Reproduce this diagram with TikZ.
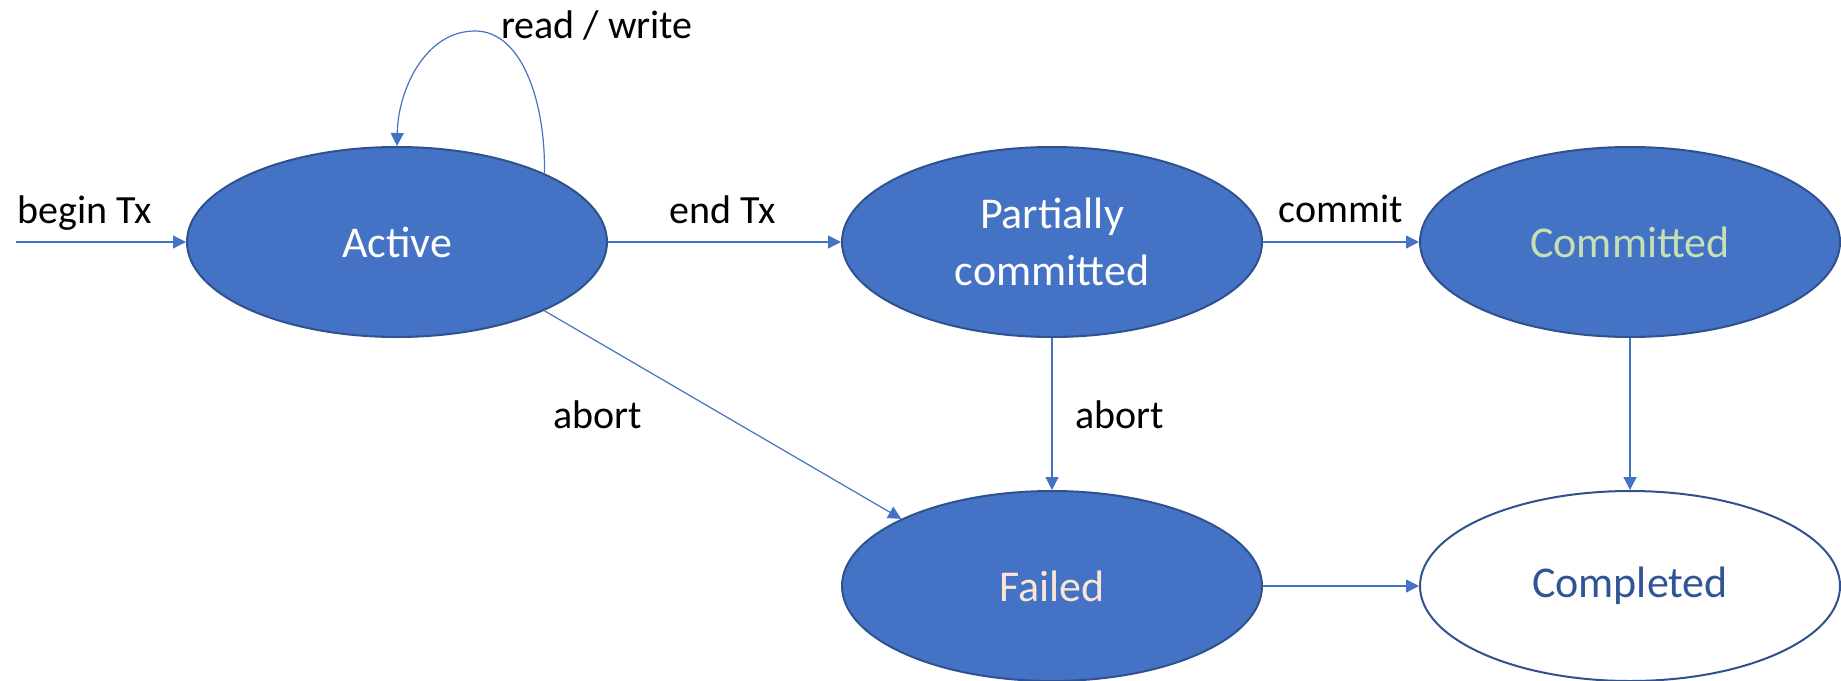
\documentclass[tikz,border=0pt]{standalone}
\usepackage{fontspec}
\setmainfont{Carlito}
\usetikzlibrary{arrows.meta,shapes.geometric}
\definecolor{ofblue}{HTML}{4472C4}
\definecolor{ofborder}{HTML}{2F528F}
\definecolor{ofgreen}{HTML}{C5E0B4}
\definecolor{ofpeach}{HTML}{FBE5D6}
\definecolor{ofdark}{HTML}{2F5597}
\begin{document}
\begin{tikzpicture}[x=0.5pt,y=-0.5pt,
  state/.style={ellipse,draw=ofborder,line width=1pt,fill=ofblue,text=white,
    minimum width=210pt,minimum height=95pt,inner sep=0pt,align=center,
    font=\fontsize{22}{28.5}\selectfont},
  arr/.style={draw=ofblue,line width=0.6pt,-{Triangle[length=6.5pt,width=6.5pt]}},
  lbl/.style={anchor=base,font=\fontsize{20}{24}\selectfont,text=black,inner sep=0pt}]
\useasboundingbox (0,0) rectangle (1841,680);
\node[state] (act) at (397,242) {Active};
\node[state] (part) at (1052,242) {Partially\\committed};
\node[state,text=ofgreen] (comm) at (1630,242) {Committed};
\node[state,text=ofpeach] (fail) at (1052,586) {Failed};
\node[state,fill=white,text=ofdark] (compl) at (1630,586) {\vphantom{d}Completed};
\coordinate (start) at (16,242);
\draw[arr] (start) -- (act.west);
\draw[arr] (act.east) -- (part.west);
\draw[arr] (part.east) -- (comm.west);
\draw[arr] (part.south) -- (fail.north);
\draw[arr] (comm.south) -- (compl.north);
\draw[arr] (fail.east) -- (compl.west);
\draw[arr] (act.-25) -- (fail.156);
\coordinate (peak) at (475,31);
\draw[arr] (act.25) .. controls (546,110) and (525,31) .. (peak) .. controls (425,31) and (398,90) .. (act.north);
\node[lbl] (lbegin) at (85,223) {begin Tx};
\node[lbl] (lend) at (723,223) {end Tx};
\node[lbl] (lcommit) at (1341,222) {commit};
\node[lbl] (labort1) at (598,428) {abort};
\node[lbl] (labort2) at (1120,428) {abort};
\node[lbl] (lrw) at (597,38) {read / write};
\end{tikzpicture}
\end{document}
